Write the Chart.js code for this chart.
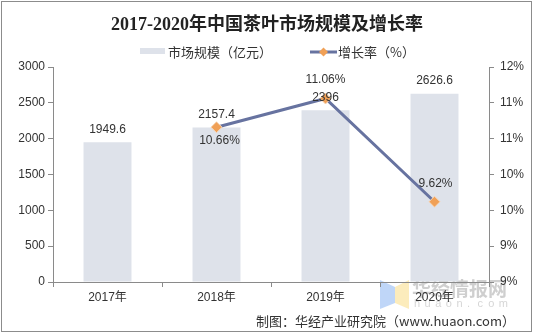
<!DOCTYPE html>
<html>
<head>
<meta charset="utf-8">
<script src="https://cdn.jsdelivr.net/npm/chart.js@4/dist/chart.umd.min.js"></script>
<style>
  html, body { margin: 0; padding: 0; background: #fff; }
  #wrap { width: 534px; height: 335px; }
</style>
</head>
<body>
<div id="wrap"><canvas id="teaChart" width="534" height="335"></canvas></div>
<script>
const years = ['2017年', '2018年', '2019年', '2020年'];
const marketSize = [1949.6, 2157.4, 2396, 2626.6];
const growthRate = [null, 10.66, 11.06, 9.62];
const sizeAxis = [0, 3000, 500];      // min, max, step
const rateAxis = [8.5, 11.5, 0.5];    // min, max, step (labels rounded to whole %)

const barColor = '#dee2ea';
const lineColor = '#6773a0';
const markColor = '#f0a056';
const textColor = '#333333';
const axisColor = '#8a8a8a';
const latin = "'Liberation Sans', 'Noto Sans CJK SC', sans-serif";

// offsets for the growth rate labels, relative to each point
const rateLabelOffsets = [null, [3, 13], [0, -19], [1, -18]];

const decorations = {
    id: 'decorations',
    beforeDraw(chart) {
        const ctx = chart.ctx;
        ctx.save();
        // watermark logo + text
        ctx.globalAlpha = 0.75;
        ctx.fillStyle = '#a9c8f5';
        ctx.beginPath();
        ctx.moveTo(380, 280); ctx.lineTo(395, 287); ctx.lineTo(395, 303); ctx.lineTo(380, 309);
        ctx.closePath(); ctx.fill();
        ctx.fillStyle = '#fbe6a6';
        ctx.beginPath();
        ctx.moveTo(395, 287); ctx.lineTo(409, 280); ctx.lineTo(409, 309); ctx.lineTo(395, 303);
        ctx.closePath(); ctx.fill();
        ctx.globalAlpha = 1;
        ctx.fillStyle = '#cfcfcf';
        ctx.font = "bold 19px 'Noto Sans CJK SC', sans-serif";
        ctx.textBaseline = 'middle';
        ctx.textAlign = 'left';
        ctx.fillText('华经情报网', 412, 289);
        ctx.font = "11px " + latin;
        ctx.fillStyle = '#d6d6d6';
        const wm = 'huaon.com';
        for (let i = 0; i < wm.length; i++) {
            ctx.fillText(wm[i], 414 + i * 10.6, 304);
        }
        ctx.restore();
    },
    afterDatasetsDraw(chart) {
        const ctx = chart.ctx;
        ctx.save();
        ctx.fillStyle = textColor;
        ctx.font = '12px ' + latin;
        ctx.textAlign = 'center';
        ctx.textBaseline = 'middle';
        const bars = chart.getDatasetMeta(1).data;
        bars.forEach((bar, i) => {
            ctx.fillText(String(marketSize[i]), bar.x, bar.y - 13);
        });
        const pts = chart.getDatasetMeta(0).data;
        pts.forEach((pt, i) => {
            if (growthRate[i] == null) return;
            const off = rateLabelOffsets[i];
            ctx.fillText(growthRate[i].toFixed(2) + '%', pt.x + off[0], pt.y + off[1]);
        });
        ctx.restore();
    },
    afterDraw(chart) {
        const ctx = chart.ctx;
        ctx.save();
        // title
        ctx.fillStyle = '#222';
        ctx.font = "bold 18px 'Liberation Serif', 'Noto Sans CJK SC', serif";
        ctx.textAlign = 'center';
        ctx.textBaseline = 'middle';
        ctx.fillText('2017-2020年中国茶叶市场规模及增长率', 267, 25);

        // legend
        ctx.font = "13px 'Noto Sans CJK SC', sans-serif";
        ctx.textAlign = 'left';
        ctx.fillStyle = barColor;
        ctx.fillRect(140, 48, 25, 6);
        ctx.fillStyle = textColor;
        ctx.fillText('市场规模（亿元）', 168, 52);

        ctx.strokeStyle = lineColor;
        ctx.lineWidth = 3;
        ctx.beginPath();
        ctx.moveTo(310, 52); ctx.lineTo(337, 52);
        ctx.stroke();
        ctx.fillStyle = markColor;
        ctx.beginPath();
        ctx.moveTo(323.5, 47.5); ctx.lineTo(328, 52); ctx.lineTo(323.5, 56.5); ctx.lineTo(319, 52);
        ctx.closePath(); ctx.fill();
        ctx.fillStyle = textColor;
        ctx.fillText('增长率（%）', 338, 52);

        // source note
        ctx.textAlign = 'right';
        ctx.fillText('制图：华经产业研究院（www.huaon.com）', 515, 321);

        // outer frame
        ctx.strokeStyle = '#8c8c8c';
        ctx.lineWidth = 1;
        ctx.strokeRect(1.5, 1.5, 530, 330);
        ctx.restore();
    }
};

const gridStyle = {
    display: true,
    drawOnChartArea: false,
    drawTicks: true,
    tickLength: 5,
    color: axisColor
};

new Chart(document.getElementById('teaChart').getContext('2d'), {
    data: {
        labels: years,
        datasets: [{
            type: 'line',
            label: '增长率（%）',
            data: growthRate,
            yAxisID: 'y1',
            order: 0,
            borderColor: lineColor,
            borderWidth: 3,
            pointStyle: 'rectRot',
            pointRadius: 5.5,
            pointBackgroundColor: markColor,
            pointBorderColor: '#f7d7b8',
            pointBorderWidth: 1,
            tension: 0,
            spanGaps: false
        }, {
            type: 'bar',
            label: '市场规模（亿元）',
            data: marketSize,
            yAxisID: 'y',
            order: 1,
            backgroundColor: barColor,
            categoryPercentage: 1,
            barPercentage: 0.44
        }]
    },
    options: {
        responsive: false,
        devicePixelRatio: 1,
        animation: false,
        layout: { padding: { top: 67, left: 0, right: 0, bottom: 0 } },
        plugins: {
            legend: { display: false },
            title: { display: false },
            tooltip: { enabled: false }
        },
        scales: {
            x: {
                offset: true,
                grid: Object.assign({}, gridStyle, { offset: true }),
                border: { display: true, color: axisColor },
                ticks: { color: textColor, font: { size: 12, family: latin }, padding: 3 },
                afterFit: s => { s.height = 53; }
            },
            y: {
                position: 'left',
                min: sizeAxis[0],
                max: sizeAxis[1],
                grid: gridStyle,
                border: { display: true, color: axisColor },
                ticks: {
                    stepSize: sizeAxis[2],
                    color: textColor,
                    font: { size: 12, family: latin },
                    padding: 3,
                    callback: v => String(v)
                },
                afterFit: s => { s.width = 53; }
            },
            y1: {
                position: 'right',
                min: rateAxis[0],
                max: rateAxis[1],
                grid: gridStyle,
                border: { display: true, color: axisColor },
                ticks: {
                    stepSize: rateAxis[2],
                    color: textColor,
                    font: { size: 12, family: latin },
                    padding: 6,
                    callback: v => Math.round(v) + '%'
                },
                afterFit: s => { s.width = 45; }
            }
        }
    },
    plugins: [decorations]
});
</script>
</body>
</html>
